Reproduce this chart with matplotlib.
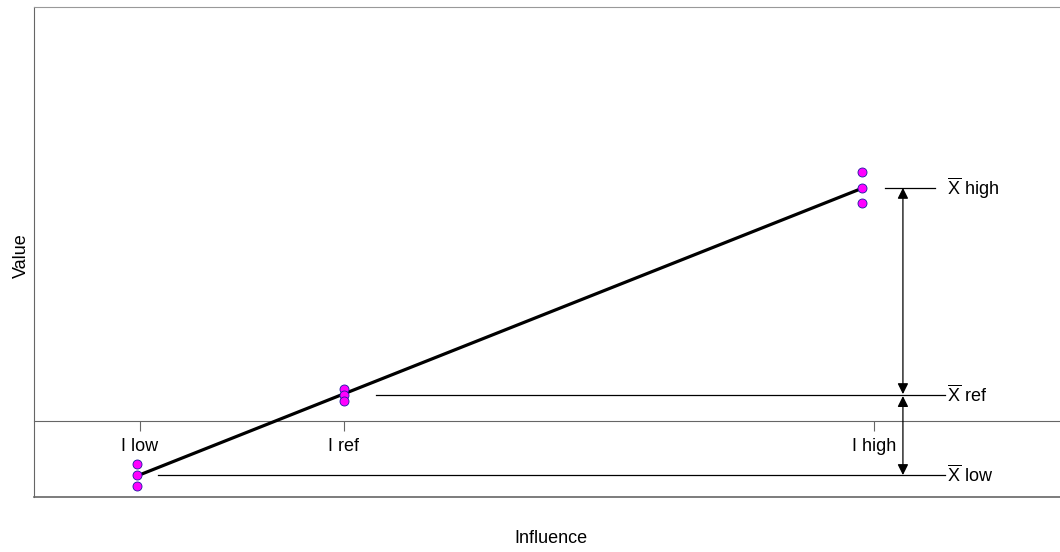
import numpy as np
import matplotlib.pyplot as plt

plt.rcParams['font.family'] = ['Liberation Sans', 'DejaVu Sans']
plt.rcParams['mathtext.fontset'] = 'custom'
plt.rcParams['mathtext.rm'] = 'Liberation Sans'
plt.rcParams['mathtext.it'] = 'Liberation Sans'

# influence levels (ticks) and measured replicates
tick_pos = [1.0, 2.0, 4.6]
tick_labels = ['I low', 'I ref', 'I high']

x_low = [0.985, 0.985, 0.985]
y_low = [-0.86, -1.08, -1.30]
x_ref = [2.0, 2.0, 2.0]
y_ref = [0.64, 0.52, 0.40]
x_high = [4.54, 4.54, 4.54]
y_high = [4.98, 4.66, 4.36]

mean_names = ['high', 'ref', 'low']
mean_vals = [np.mean(y_high), np.mean(y_ref), np.mean(y_low)]
mean_line_x = [(4.652, 4.897), (2.157, 4.946), (1.088, 4.946)]

fig = plt.figure(figsize=(10.6, 5.52), dpi=100)
ax = fig.add_axes([0.032, 0.0996, 0.968, 0.888])
ax.set_xlim(0.48, 5.51)
ax.set_ylim(-1.52, 8.29)

frame = '#666666'
ax.spines['right'].set_visible(False)
ax.spines['top'].set_color('#999999')
ax.spines['left'].set_color(frame)
ax.spines['bottom'].set_position(('data', 0))
ax.spines['bottom'].set_color(frame)
ax.axhline(-1.52, color=frame, lw=1.2, clip_on=False)

ax.set_yticks([])
ax.set_xticks(tick_pos)
ax.set_xticklabels(tick_labels, fontsize=13)
ax.tick_params(axis='x', direction='out', length=7, width=0.8, color=frame, pad=5)

# regression line through all points
xs = np.array(x_low + x_ref + x_high)
ys = np.array(y_low + y_ref + y_high)
k, b = np.polyfit(xs, ys, 1)
ax.plot([x_low[0], x_high[0]], [k * x_low[0] + b, k * x_high[0] + b],
        color='black', lw=2.3, zorder=3)

for px, py in [(x_low, y_low), (x_ref, y_ref), (x_high, y_high)]:
    ax.plot(px, py, 'o', ms=6.5, mfc='#ff00ff', mec='#1a1aa0', mew=0.6, zorder=4)

# mean lines and labels
for name, m, (x0, x1) in zip(mean_names, mean_vals, mean_line_x):
    ax.plot([x0, x1], [m, m], color='black', lw=0.9)
    ax.text(4.958, m, r'$\overline{\mathrm{X}}$' + ' ' + name, fontsize=13,
            va='center', ha='left')

# difference arrows
arr_x = 4.74
aprops = dict(arrowstyle='<|-|>', color='black', lw=0.9, mutation_scale=16,
              shrinkA=0, shrinkB=0)
ax.annotate('', xy=(arr_x, mean_vals[0]), xytext=(arr_x, mean_vals[1] + 0.02),
            arrowprops=aprops)
ax.annotate('', xy=(arr_x, mean_vals[2]), xytext=(arr_x, mean_vals[1] - 0.02),
            arrowprops=aprops)

ax.set_xlabel('Influence', fontsize=13)
ax.xaxis.set_label_coords(0.504, -0.068)
ax.set_ylabel('Value', fontsize=13)
ax.yaxis.set_label_coords(-0.004, 0.493)

fig.savefig('out.png', dpi=100)
